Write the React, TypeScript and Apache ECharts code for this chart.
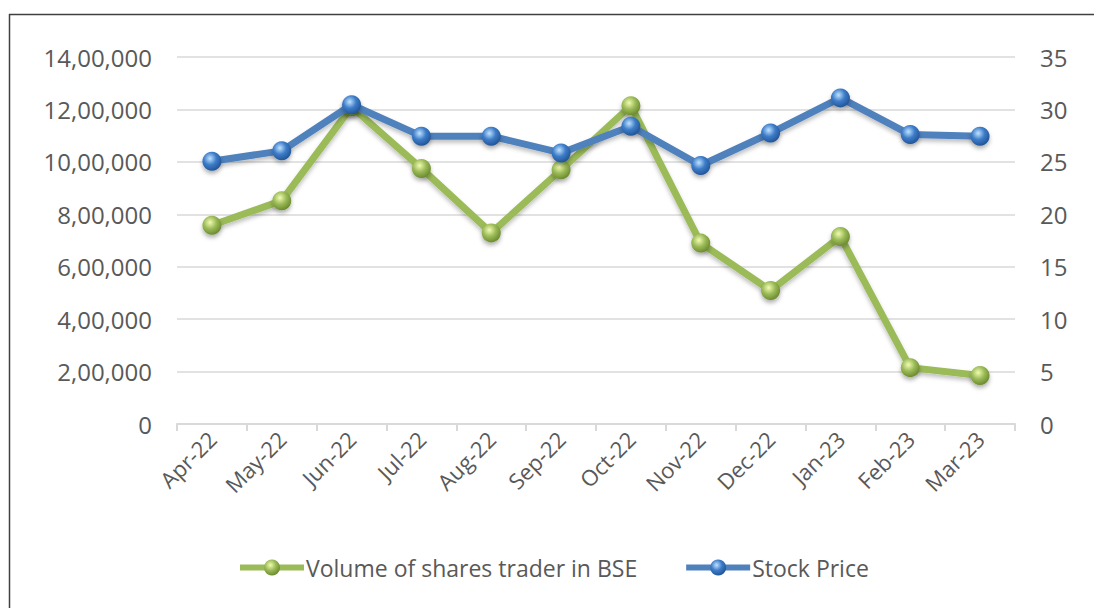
import React, { useEffect, useRef } from "react";
import * as echarts from "echarts";

const categories = ["Apr-22", "May-22", "Jun-22", "Jul-22", "Aug-22", "Sep-22", "Oct-22", "Nov-22", "Dec-22", "Jan-23", "Feb-23", "Mar-23"];
const volumeBSE = [758000, 852000, 1210000, 975000, 729000, 970000, 1214000, 690000, 509000, 715000, 215000, 185000];
const stockPrice = [25.05, 26.05, 30.45, 27.45, 27.45, 25.85, 28.4, 24.65, 27.75, 31.1, 27.6, 27.45];
const leftTicks = { min: 0, max: 1400000, interval: 200000 };
const rightTicks = { min: 0, max: 35, interval: 5 };

const FONT = "'Open Sans', 'Noto Sans', sans-serif";
const TEXT = "#595959";

function indianFormat(v: number): string {
  const s = Math.round(v).toString();
  if (s.length <= 3) return s;
  const last3 = s.slice(-3);
  let rest = s.slice(0, -3);
  const parts: string[] = [];
  while (rest.length > 2) {
    parts.unshift(rest.slice(-2));
    rest = rest.slice(0, -2);
  }
  if (rest.length) parts.unshift(rest);
  return parts.join(",") + "," + last3;
}

const sphere = (light: string, mid: string, dark: string) => ({
  type: "radial",
  x: 0.4,
  y: 0.35,
  r: 0.75,
  colorStops: [
    { offset: 0, color: light },
    { offset: 0.45, color: mid },
    { offset: 1, color: dark },
  ],
});

export default function App() {
  const ref = useRef<HTMLDivElement>(null);
  useEffect(() => {
    if (!ref.current) return;
    const chart = echarts.init(ref.current, null, { renderer: "svg" });
    chart.setOption({
      animation: false,
      backgroundColor: "#ffffff",
      textStyle: { fontFamily: FONT, color: TEXT },
      graphic: [
        { type: "line", shape: { x1: 9, y1: 14.5, x2: 1094, y2: 14.5 }, style: { stroke: "#404040", lineWidth: 1.5 } },
        { type: "line", shape: { x1: 9.5, y1: 14, x2: 9.5, y2: 608 }, style: { stroke: "#404040", lineWidth: 1.5 } },
      ],
      grid: { left: 177, right: 79, top: 57, bottom: 184, containLabel: false },
      legend: {
        left: 237,
        top: 556,
        padding: 0,
        itemWidth: 64,
        itemHeight: 20,
        itemGap: 46,
        lineStyle: { width: 6 },
        textStyle: { fontFamily: FONT, fontSize: 23, color: TEXT, padding: [0, 0, 0, -3] },
        data: ["Volume of shares trader in BSE", "Stock Price"],
      },
      xAxis: {
        type: "category",
        data: categories,
        boundaryGap: true,
        axisLine: { lineStyle: { color: "#d9d9d9", width: 2 } },
        axisTick: { show: true, length: 7, lineStyle: { color: "#d9d9d9", width: 2 } },
        axisLabel: { rotate: 45, fontSize: 22, color: TEXT, fontFamily: FONT, margin: 11, interval: 0 },
      },
      yAxis: [
        {
          type: "value",
          min: leftTicks.min,
          max: leftTicks.max,
          interval: leftTicks.interval,
          axisLine: { show: false },
          axisTick: { show: false },
          splitLine: { lineStyle: { color: "#d9d9d9", width: 1.5 } },
          axisLabel: { fontSize: 24, color: TEXT, fontFamily: FONT, margin: 25, formatter: (v: number) => indianFormat(v) },
        },
        {
          type: "value",
          min: rightTicks.min,
          max: rightTicks.max,
          interval: rightTicks.interval,
          axisLine: { show: false },
          axisTick: { show: false },
          splitLine: { show: false },
          axisLabel: { fontSize: 24, color: TEXT, fontFamily: FONT, margin: 25 },
        },
      ],
      series: [
        {
          name: "Volume of shares trader in BSE",
          type: "line",
          yAxisIndex: 0,
          data: volumeBSE,
          symbol: "circle",
          symbolSize: 19,
          lineStyle: { color: "#9bbb59", width: 7, shadowColor: "rgba(0,0,0,0.25)", shadowBlur: 4, shadowOffsetY: 3 },
          itemStyle: { color: sphere("#f2fbb0", "#9bbb59", "#5f7d22"), shadowColor: "rgba(0,0,0,0.3)", shadowBlur: 4, shadowOffsetY: 3 },
          z: 2,
        },
        {
          name: "Stock Price",
          type: "line",
          yAxisIndex: 1,
          data: stockPrice,
          symbol: "circle",
          symbolSize: 19,
          lineStyle: { color: "#4f81bd", width: 7, shadowColor: "rgba(0,0,0,0.25)", shadowBlur: 4, shadowOffsetY: 3 },
          itemStyle: { color: sphere("#bfe3ff", "#3d7cc9", "#1b4a88"), shadowColor: "rgba(0,0,0,0.3)", shadowBlur: 4, shadowOffsetY: 3 },
          z: 3,
        },
      ],
    });
    return () => chart.dispose();
  }, []);
  return <div ref={ref} style={{ position: "absolute", left: 0, top: 0, width: 1094, height: 608 }} />;
}
